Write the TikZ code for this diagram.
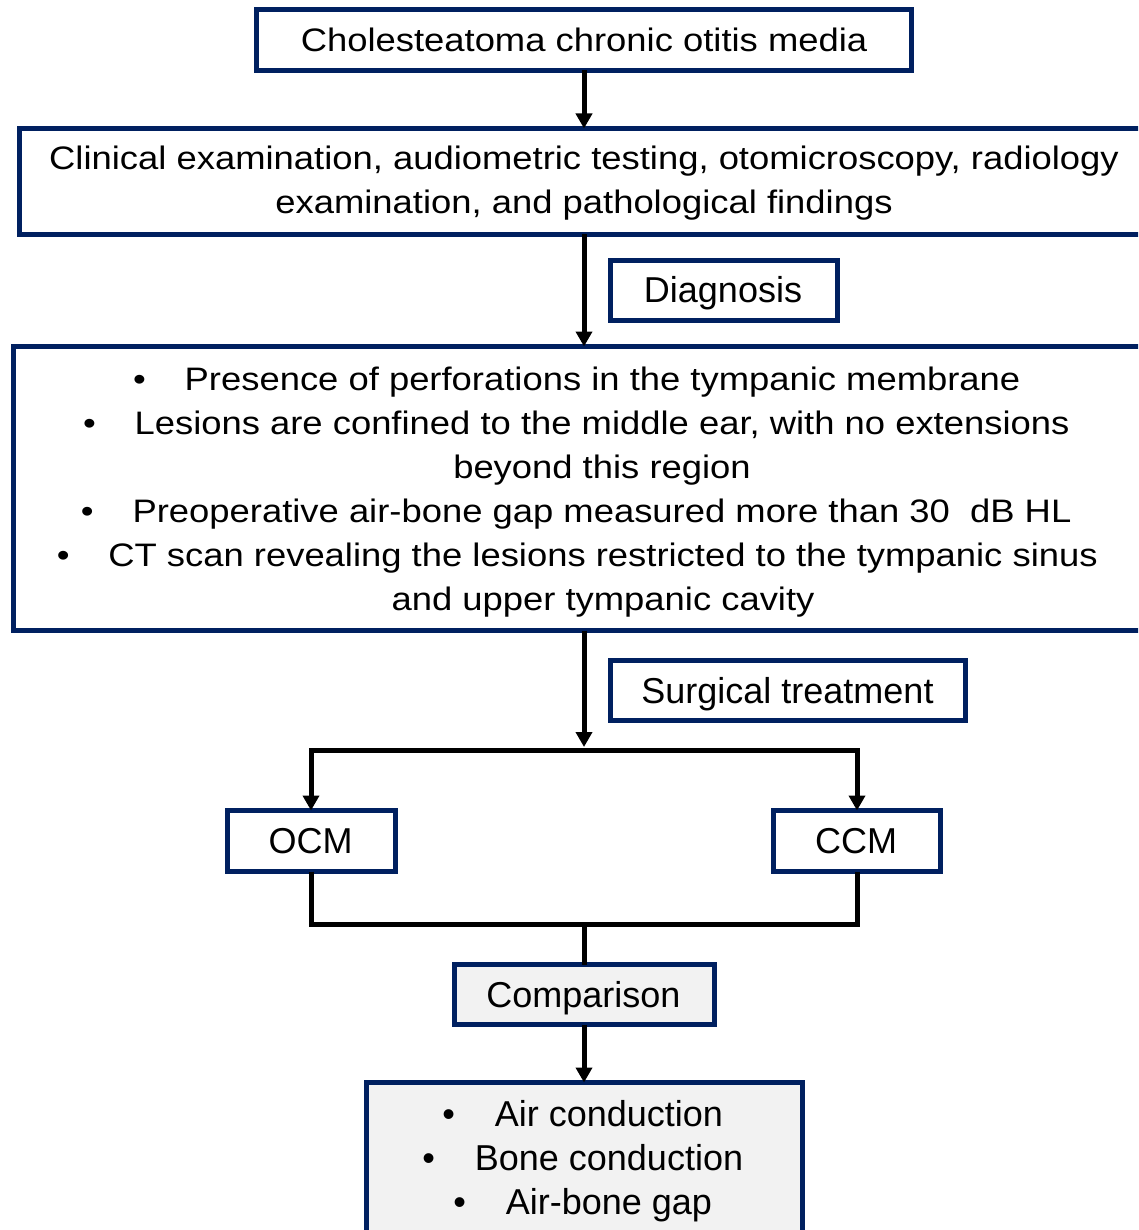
\documentclass[tikz,border=0pt]{standalone}
\usepackage{fontspec}
\setmainfont{Liberation Sans}
\newfontfamily\widefont[FakeStretch=1.12]{Liberation Sans}
\usetikzlibrary{arrows.meta,calc}
\definecolor{navy}{RGB}{0,32,96}
\definecolor{lightfill}{RGB}{242,242,242}
\begin{document}
\begin{tikzpicture}[x=1pt,y=-1pt,
  box/.style={draw=navy,line width=5pt,fill=white,inner sep=0pt,outer sep=0pt},
  gbox/.style={box,fill=lightfill},
  wtxt/.style={inner sep=0pt,anchor=base,font=\widefont\fontsize{32.5}{44}\selectfont},
  ntxt/.style={inner sep=0pt,anchor=base,font=\fontsize{36}{44}\selectfont},
  conn/.style={line width=5pt,line join=miter},
  arr/.style={conn,-{Triangle[length=15pt,width=16pt]}}]
\useasboundingbox (0,0) rectangle (1138,1230);
\clip (0,0) rectangle (1138,1230);

% boxes
\node[box,minimum width=655pt,minimum height=61pt] (top) at (584,40) {};
\node[wtxt] (ttop) at (584,52) {Cholesteatoma chronic otitis media};

\node[box,minimum width=1129pt,minimum height=106pt] (exam) at (584,181.5) {};
\node[wtxt] (exam1) at (584,170) {Clinical examination, audiometric testing, otomicroscopy, radiology};
\node[wtxt] (exam2) at (584,214) {examination, and pathological findings};

\node[box,minimum width=227pt,minimum height=60pt] (diag) at (724,290.5) {};
\node[ntxt] (tdiag) at (723,302) {Diagnosis};

\node[box,minimum width=1141pt,minimum height=284pt] (crit) at (584,488.5) {};
\node[wtxt] (c1) at (602.5,390) {Presence of perforations in the tympanic membrane};
\node[wtxt] (b1) at ($(c1.base west)+(-45,0)$) {\textbullet};
\node[wtxt] (c2) at (602,434) {Lesions are confined to the middle ear, with no extensions};
\node[wtxt] (b2) at ($(c2.base west)+(-45,0)$) {\textbullet};
\node[wtxt] (c3) at (602,478) {beyond this region};
\node[wtxt] (c4) at (602,522) {Preoperative air-bone gap measured more than 30\ \ dB HL};
\node[wtxt] (b4) at ($(c4.base west)+(-45,0)$) {\textbullet};
\node[wtxt] (c5) at (603,566) {CT scan revealing the lesions restricted to the tympanic sinus};
\node[wtxt] (b5) at ($(c5.base west)+(-45,0)$) {\textbullet};
\node[wtxt] (c6) at (603,610) {and upper tympanic cavity};

\node[box,minimum width=355pt,minimum height=60pt] (surg) at (788,690.5) {};
\node[ntxt] (tsurg) at (787.5,703) {Surgical treatment};

\node[box,minimum width=168pt,minimum height=61pt] (ocm) at (311,841) {};
\node[ntxt] (tocm) at (310.5,853) {OCM};
\node[box,minimum width=167pt,minimum height=61pt] (ccm) at (857,841) {};
\node[ntxt] (tccm) at (856,853) {CCM};

\node[gbox,minimum width=260pt,minimum height=60pt] (cmp) at (584,994.5) {};
\node[ntxt] (tcmp) at (583.5,1007) {Comparison};

\node[gbox,minimum width=436pt,minimum height=170pt] (res) at (584,1167.5) {};
\node[ntxt] (r1) at (609,1126) {Air conduction};
\node[ntxt] (rb1) at ($(r1.base west)+(-46,0)$) {\textbullet};
\node[ntxt] (r2) at (609,1170) {Bone conduction};
\node[ntxt] (rb2) at ($(r2.base west)+(-46,0)$) {\textbullet};
\node[ntxt] (r3) at (609,1214) {Air-bone gap};
\node[ntxt] (rb3) at ($(r3.base west)+(-46,0)$) {\textbullet};

% connectors
\coordinate (split) at (584,750);
\coordinate (merge) at (584,924);
\draw[arr] (top.south) -- (exam.north);
\draw[arr] (exam.south) -- (crit.north);
\draw[arr,shorten >=3pt] (crit.south) -- (split);
\draw[arr] (split) -| (ocm.north);
\draw[arr] (split) -| (ccm.north);
\draw[conn] (ocm.south) |- (merge) -| (ccm.south);
\draw[conn] (merge) -- (cmp.north);
\draw[arr] (cmp.south) -- (res.north);
\end{tikzpicture}
\end{document}
